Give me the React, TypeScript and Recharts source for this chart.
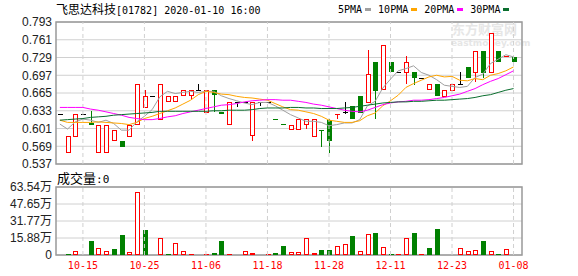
import React from "react";
import { ComposedChart, Bar, Line, XAxis, YAxis, CartesianGrid, ReferenceArea, ReferenceLine } from "recharts";

const dates = [
  "10-10", "10-11", "10-14", "10-15", "10-16", "10-17", "10-18", "10-21", "10-22", "10-23",
  "10-24", "10-25", "10-28", "10-29", "10-30", "10-31", "11-01", "11-04", "11-05", "11-06",
  "11-07", "11-08", "11-11", "11-12", "11-13", "11-14", "11-15", "11-18", "11-19", "11-20",
  "11-21", "11-22", "11-25", "11-26", "11-27", "11-28", "11-29", "12-02", "12-03", "12-04",
  "12-05", "12-06", "12-09", "12-11", "12-12", "12-13", "12-16", "12-17", "12-18", "12-19",
  "12-20", "12-23", "12-24", "12-27", "12-30", "12-31", "01-02", "01-03", "01-06", "01-08",
];

const opens = [
  0.628, 0.558, 0.588, 0.628, 0.611, 0.558, 0.558, 0.58, 0.578, 0.588,
  0.61, 0.64, 0.66, 0.619, 0.651, 0.651, 0.661, 0.661, 0.67, 0.63,
  0.67, 0.63, 0.61, 0.648, 0.648, 0.589, 0.648, 0.648, 0.619, 0.61,
  0.6, 0.6, 0.61, 0.588, 0.598, 0.617, 0.6265, 0.631, 0.642, 0.6596,
  0.649, 0.721, 0.672, 0.721, 0.702, 0.702, 0.702, 0.6915, 0.672, 0.681,
  0.66, 0.67, 0.682, 0.7125, 0.702, 0.741, 0.702, 0.741, 0.731, 0.7305,
];
const highs = [
  0.628, 0.5875, 0.628, 0.628, 0.633, 0.608, 0.608, 0.598, 0.578, 0.608,
  0.681, 0.67, 0.66, 0.681, 0.66, 0.66, 0.67, 0.67, 0.681, 0.67,
  0.67, 0.63, 0.648, 0.648, 0.648, 0.648, 0.648, 0.648, 0.619, 0.61,
  0.608, 0.618, 0.618, 0.618, 0.598, 0.619, 0.628, 0.649, 0.642, 0.6596,
  0.7425, 0.721, 0.7515, 0.721, 0.702, 0.732, 0.702, 0.6915, 0.681, 0.681,
  0.67, 0.681, 0.702, 0.7125, 0.741, 0.741, 0.7726, 0.741, 0.7325, 0.7305,
];
const lows = [
  0.628, 0.558, 0.588, 0.628, 0.607, 0.558, 0.558, 0.58, 0.568, 0.588,
  0.61, 0.64, 0.66, 0.619, 0.651, 0.651, 0.661, 0.652, 0.67, 0.63,
  0.63, 0.628, 0.61, 0.64, 0.648, 0.579, 0.641, 0.648, 0.617, 0.608,
  0.6, 0.6, 0.6, 0.588, 0.568, 0.557, 0.619, 0.627, 0.619, 0.6295,
  0.649, 0.618, 0.672, 0.702, 0.702, 0.681, 0.679, 0.6915, 0.672, 0.66,
  0.66, 0.67, 0.682, 0.6915, 0.685, 0.6915, 0.702, 0.7214, 0.731, 0.7214,
];
const closes = [
  0.628, 0.5875, 0.628, 0.628, 0.607, 0.608, 0.608, 0.598, 0.568, 0.608,
  0.681, 0.66, 0.66, 0.681, 0.66, 0.66, 0.67, 0.67, 0.67, 0.67,
  0.661, 0.628, 0.648, 0.648, 0.648, 0.648, 0.648, 0.648, 0.617, 0.608,
  0.608, 0.618, 0.618, 0.618, 0.597, 0.579, 0.628, 0.631, 0.619, 0.6295,
  0.7, 0.669, 0.7515, 0.702, 0.702, 0.721, 0.6915, 0.6915, 0.681, 0.66,
  0.67, 0.681, 0.682, 0.6915, 0.741, 0.7016, 0.7726, 0.7214, 0.7325, 0.7214,
];
// volume in 万
const volumes = [
  0, 1.2, 3.7, 0, 13.2, 6.8, 3.7, 5.9, 18.8, 2.8,
  59.3, 23.4, 0, 15.7, 1.2, 11.1, 3.7, 1.2, 0, 1.2,
  2.1, 13.2, 0.9, 0, 3.7, 2.1, 0, 1.2, 2.1, 8.6,
  2.8, 2.8, 16, 1.9, 4.9, 4.9, 8.6, 10.5, 17.9, 3.7,
  19.5, 20.7, 7.4, 1.2, 0.9, 16, 20.7, 1.2, 6.8, 24.4,
  0, 0, 6.5, 3.7, 4.6, 13.2, 3.7, 1.2, 5.6, 0,
];

const ma5 = [
  0.609, 0.6, 0.613, 0.618, 0.616, 0.612, 0.616, 0.61, 0.598, 0.598,
  0.613, 0.623, 0.635, 0.658, 0.668, 0.664, 0.666, 0.668, 0.666, 0.668,
  0.668, 0.66, 0.655, 0.651, 0.647, 0.644, 0.648, 0.648, 0.642, 0.634,
  0.626, 0.62, 0.614, 0.614, 0.612, 0.606, 0.608, 0.611, 0.611, 0.617,
  0.642, 0.65, 0.674, 0.69, 0.705, 0.709, 0.714, 0.702, 0.697, 0.689,
  0.679, 0.677, 0.675, 0.677, 0.693, 0.699, 0.718, 0.726, 0.734, 0.73,
];
const ma10 = [
  0.616, 0.612, 0.612, 0.612, 0.612, 0.613, 0.612, 0.611, 0.61, 0.608,
  0.612, 0.619, 0.623, 0.628, 0.633, 0.638, 0.645, 0.652, 0.662, 0.668,
  0.666, 0.663, 0.662, 0.659, 0.657, 0.656, 0.654, 0.652, 0.646, 0.64,
  0.635, 0.634, 0.631, 0.628, 0.623, 0.616, 0.614, 0.612, 0.612, 0.615,
  0.624, 0.629, 0.642, 0.651, 0.661, 0.675, 0.682, 0.688, 0.694, 0.697,
  0.694, 0.695, 0.688, 0.687, 0.691, 0.689, 0.697, 0.7, 0.705, 0.712,
];
const ma20 = [
  0.639, 0.639, 0.639, 0.639, 0.636, 0.634, 0.631, 0.628, 0.625, 0.621,
  0.619, 0.617, 0.617, 0.619, 0.622, 0.624, 0.628, 0.631, 0.634, 0.637,
  0.64, 0.643, 0.644, 0.646, 0.649, 0.651, 0.652, 0.653, 0.653, 0.652,
  0.652, 0.65, 0.648, 0.645, 0.643, 0.64, 0.637, 0.634, 0.632, 0.631,
  0.634, 0.639, 0.644, 0.647, 0.649, 0.65, 0.652, 0.652, 0.653, 0.655,
  0.657, 0.66, 0.663, 0.668, 0.673, 0.68, 0.686, 0.691, 0.698, 0.705,
];
const ma30 = [
  0.616, 0.617, 0.618, 0.619, 0.621, 0.622, 0.623, 0.625, 0.626, 0.627,
  0.628, 0.629, 0.63, 0.632, 0.632, 0.632, 0.632, 0.632, 0.632, 0.632,
  0.633, 0.633, 0.634, 0.634, 0.634, 0.635, 0.637, 0.638, 0.638, 0.638,
  0.639, 0.639, 0.638, 0.638, 0.637, 0.637, 0.637, 0.638, 0.639, 0.641,
  0.643, 0.645, 0.647, 0.648, 0.649, 0.649, 0.65, 0.65, 0.651, 0.652,
  0.652, 0.653, 0.654, 0.655, 0.657, 0.66, 0.662, 0.666, 0.67, 0.673,
];

const priceTicks = [0.537, 0.569, 0.601, 0.633, 0.665, 0.697, 0.729, 0.761, 0.793];
const volTicks = [0, 15.88, 31.77, 47.65, 63.54];
const dateTickIdx = [3, 11, 19, 27, 35, 43, 51, 59];
const legendItems = [
  { name: "5PMA", key: "ma5", color: "#a0a0a0" },
  { name: "10PMA", key: "ma10", color: "#ffa500" },
  { name: "20PMA", key: "ma20", color: "#ff00ff" },
  { name: "30PMA", key: "ma30", color: "#0a6e2e" },
];

const Y_MIN = priceTicks[0];
const Y_MAX = priceTicks[priceTicks.length - 1];
const X_DOMAIN: [number, number] = [-0.5, 60.1];
const RED = "#ff0000";
const GREEN = "#008000";
const GRID = "#d0d0d0";
const BORDER = "#999";

const data = dates.map((d, i) => ({
  i,
  date: d,
  open: opens[i],
  high: highs[i],
  low: lows[i],
  close: closes[i],
  vol: volumes[i],
  up: i === 0 || closes[i] >= closes[i - 1],
  ma5: ma5[i],
  ma10: ma10[i],
  ma20: ma20[i],
  ma30: ma30[i],
}));

// bar spans [Y_MIN, high] so the shape can map prices with the axis scale
const Candle = (props: any) => {
  const { x, y, width, height, payload } = props;
  const { open, close, high, low } = payload;
  const k = height / (high - Y_MIN);
  const py = (v: number) => y + (high - v) * k;
  const c = Math.round(x + width / 2);
  const color = close > open ? RED : close < open ? GREEN : "#000";
  const top = Math.round(py(Math.max(open, close)));
  const bot = Math.round(py(Math.min(open, close)));
  const hi = Math.round(py(high));
  const lo = Math.round(py(low));
  const wx = c + 0.5;

  if (close === open) {
    return (
      <g>
        {hi !== lo && <line x1={wx} x2={wx} y1={hi} y2={lo} stroke={color} />}
        <line x1={c - 2} x2={c + 3} y1={top + 0.5} y2={top + 0.5} stroke={color} />
      </g>
    );
  }
  if (close < open) {
    return (
      <g>
        {hi !== lo && <line x1={wx} x2={wx} y1={hi} y2={lo} stroke={color} />}
        <rect x={c - 2} y={top} width={5} height={Math.max(bot - top, 1)} fill={color} />
      </g>
    );
  }
  return (
    <g>
      {hi < top && <line x1={wx} x2={wx} y1={hi} y2={top} stroke={color} />}
      {lo > bot && <line x1={wx} x2={wx} y1={bot} y2={lo} stroke={color} />}
      {bot - top >= 2 ? (
        <rect x={c - 1.5} y={top + 0.5} width={4} height={bot - top} fill="#fff" stroke={color} />
      ) : (
        <rect x={c - 2} y={top} width={5} height={Math.max(bot - top, 1)} fill={color} />
      )}
    </g>
  );
};

const VolBar = (props: any) => {
  const { x, y, width, height, payload } = props;
  if (!payload.vol) return null;
  const c = Math.round(x + width / 2);
  const top = Math.round(y);
  const h = Math.max(Math.round(height), 1);
  if (!payload.up) {
    return <rect x={c - 2} y={top} width={5} height={h} fill={GREEN} />;
  }
  if (h < 2) return <rect x={c - 2} y={top} width={5} height={h} fill={RED} />;
  return <rect x={c - 1.5} y={top + 0.5} width={4} height={h - 1} fill="#fff" stroke={RED} />;
};

const axisFont = { fontSize: 12, fill: "#222", fontFamily: "Liberation Sans, Arial, sans-serif" };

const App = () => (
  <div style={{ position: "absolute", left: 0, top: 0, width: 578, height: 276, background: "#fff", overflow: "hidden" }}>
    {/* watermark */}
    <div style={{ position: "absolute", left: 452, top: 22, lineHeight: "14px", color: "#e6e6e6", fontFamily: "Noto Sans CJK SC", fontWeight: 700, fontSize: 13 }}>
      东方财富网
    </div>
    <div style={{ position: "absolute", left: 451, top: 38, lineHeight: "10px", color: "#e6e6e6", fontFamily: "DejaVu Sans", fontWeight: 700, fontSize: 9 }}>
      eastmoney.com
    </div>

    <div style={{ position: "absolute", left: 56, top: 1, whiteSpace: "nowrap", lineHeight: "16px", color: "#000" }}>
      <span style={{ fontFamily: "Noto Sans CJK SC", fontSize: 12 }}>飞思达科技</span>
      <span style={{ fontFamily: "DejaVu Sans Mono", fontSize: 10 }}>[01782] 2020-01-10 16:00</span>
    </div>

    <div style={{ position: "absolute", left: 338, top: 1, display: "flex", alignItems: "center", height: 16, fontFamily: "DejaVu Sans Mono", fontSize: 10, color: "#000" }}>
      {legendItems.map((it) => (
        <React.Fragment key={it.key}>
          <span>{it.name}</span>
          <span style={{ display: "inline-block", width: 6, height: 3, background: it.color, marginLeft: 3, marginRight: 7 }} />
        </React.Fragment>
      ))}
    </div>

    <div style={{ position: "absolute", left: 0, top: 0 }}>
      <ComposedChart width={578} height={170} data={data} margin={{ top: 22, right: 56, bottom: 6, left: 0 }}>
        <CartesianGrid vertical={false} stroke={GRID} />
        <XAxis type="number" dataKey="i" domain={X_DOMAIN} allowDataOverflow hide />
        <YAxis
          type="number"
          domain={[Y_MIN, Y_MAX]}
          ticks={priceTicks}
          interval={0}
          allowDataOverflow
          width={56}
          axisLine={false}
          tickLine={false}
          tickSize={0}
          tickMargin={4}
          tick={axisFont}
          tickFormatter={(v: number) => v.toFixed(3)}
        />
        {dateTickIdx.map((t) => (
          <ReferenceLine key={t} x={t} stroke={GRID} strokeDasharray="4 3" />
        ))}
        <Bar dataKey={(d: any) => [Y_MIN, d.high]} barSize={6} shape={Candle} isAnimationActive={false} />
        {legendItems.map((it) => (
          <Line key={it.key} type="linear" dataKey={it.key} stroke={it.color} strokeWidth={1} dot={false} activeDot={false} isAnimationActive={false} />
        ))}
        <ReferenceArea x1={X_DOMAIN[0]} x2={X_DOMAIN[1]} y1={Y_MIN} y2={Y_MAX} fill="none" stroke={BORDER} strokeWidth={1.5} />
      </ComposedChart>
    </div>

    <div style={{ position: "absolute", left: 57, top: 170, whiteSpace: "nowrap", lineHeight: "16px", color: "#000" }}>
      <span style={{ fontFamily: "Noto Sans CJK SC", fontSize: 13 }}>成交量</span>
      <span style={{ fontFamily: "DejaVu Sans Mono", fontSize: 11 }}>:0</span>
    </div>

    <div style={{ position: "absolute", left: 0, top: 170 }}>
      <ComposedChart width={578} height={106} data={data} margin={{ top: 17, right: 56, bottom: 1, left: 0 }}>
        <CartesianGrid vertical={false} stroke={GRID} />
        <XAxis
          type="number"
          dataKey="i"
          domain={X_DOMAIN}
          allowDataOverflow
          ticks={dateTickIdx}
          interval={0}
          height={20}
          axisLine={false}
          tickLine={false}
          tickSize={0}
          tickMargin={7}
          tick={{ fontSize: 10, fill: RED, fontFamily: "DejaVu Sans Mono" }}
          tickFormatter={(v: number) => dates[v]}
        />
        <YAxis
          type="number"
          domain={[0, volTicks[volTicks.length - 1]]}
          ticks={volTicks}
          interval={0}
          allowDataOverflow
          width={56}
          axisLine={false}
          tickLine={false}
          tickSize={0}
          tickMargin={4}
          tick={{ ...axisFont, fontFamily: "Liberation Sans, Noto Sans CJK SC" }}
          tickFormatter={(v: number) => (v === 0 ? "0" : `${v.toFixed(2)}万`)}
        />
        {dateTickIdx.map((t) => (
          <ReferenceLine key={t} x={t} stroke={GRID} strokeDasharray="4 3" />
        ))}
        <Bar dataKey="vol" barSize={6} shape={VolBar} isAnimationActive={false} />
        <ReferenceArea x1={X_DOMAIN[0]} x2={X_DOMAIN[1]} y1={0} y2={volTicks[volTicks.length - 1]} fill="none" stroke={BORDER} strokeWidth={1.5} />
      </ComposedChart>
    </div>
  </div>
);

export default App;
